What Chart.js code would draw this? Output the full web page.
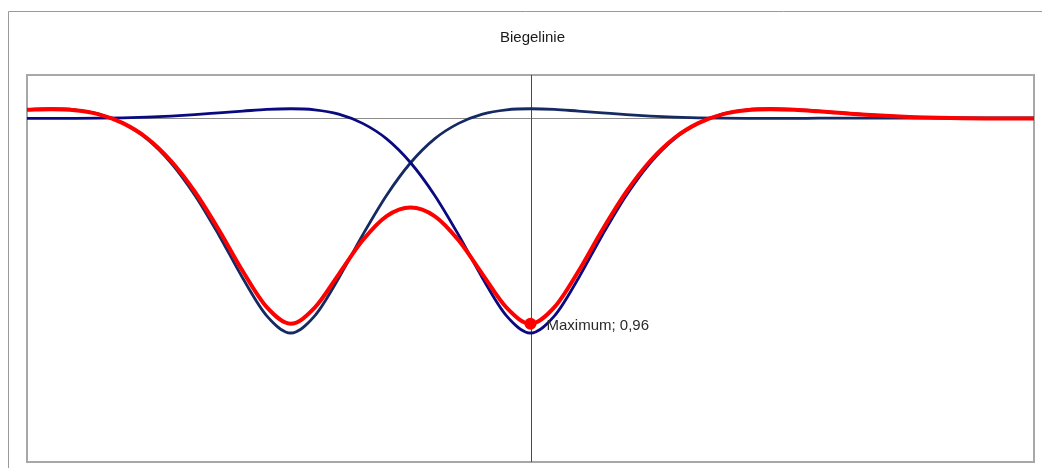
<!DOCTYPE html>
<html><head><meta charset="utf-8">
<script src="https://cdn.jsdelivr.net/npm/chart.js@4/dist/chart.umd.min.js"></script>
<style>html,body{margin:0;padding:0;background:#fff;}canvas{display:block;}</style>
</head><body>
<canvas id="c" width="1042" height="468"></canvas>
<script>
const chartTitle = 'Biegelinie';
const xValues = [-21,-20,-19,-18,-17,-16,-15,-14,-13,-12,-11,-10,-9,-8,-7,-6,-5,-4,-3,-2,-1,0,1,2,3,4,5,6,7,8,9,10,11,12,13,14,15,16,17,18,19,20,21];
const load1Deflection = [-0.040,-0.043,-0.038,-0.018,0.025,0.097,0.208,0.359,0.544,0.745,0.920,1.000,0.920,0.745,0.544,0.359,0.208,0.097,0.025,-0.018,-0.038,-0.043,-0.040,-0.032,-0.024,-0.016,-0.009,-0.004,-0.001,0.001,0.002,0.002,0.002,0.001,0.001,0.001,0.000,0.000,0.000,0.000,0.000,0.000,0.000];
const load2Deflection = [0.002,0.002,0.002,0.001,-0.001,-0.004,-0.009,-0.016,-0.024,-0.032,-0.040,-0.043,-0.038,-0.018,0.025,0.097,0.208,0.359,0.544,0.745,0.920,1.000,0.920,0.745,0.544,0.359,0.208,0.097,0.025,-0.018,-0.038,-0.043,-0.040,-0.032,-0.024,-0.016,-0.009,-0.004,-0.001,0.001,0.002,0.002,0.002];
const totalDeflection = [-0.038,-0.041,-0.036,-0.017,0.024,0.093,0.199,0.343,0.520,0.713,0.880,0.957,0.882,0.727,0.569,0.456,0.416,0.456,0.569,0.727,0.882,0.957,0.880,0.713,0.520,0.343,0.199,0.093,0.024,-0.017,-0.036,-0.041,-0.038,-0.031,-0.023,-0.015,-0.009,-0.004,-0.001,0.001,0.002,0.002,0.002];
const maxPointX = [0];
const maxPointY = [0.957];
const maxLabelText = 'Maximum';
const maxLabelValue = [0.96];

const toPts = (ys) => xValues.map((x, i) => ({x, y: ys[i]}));
const FONT = '"Liberation Sans", Arial, sans-serif';

const decor = {
  id: 'decor',
  beforeDraw(chart) {
    const {ctx, chartArea: a, scales: {x, y}} = chart;
    ctx.save();
    ctx.strokeStyle = '#9a9a9a'; ctx.lineWidth = 1;
    ctx.beginPath(); ctx.moveTo(8.5, 468); ctx.lineTo(8.5, 11.5); ctx.lineTo(1042, 11.5); ctx.stroke();
    ctx.fillStyle = '#1a1a1a'; ctx.font = '15px ' + FONT; ctx.textAlign = 'center'; ctx.textBaseline = 'middle';
    ctx.fillText(chartTitle, (a.left + a.right) / 2 + 2, 38);
    ctx.strokeStyle = '#a8a8a8'; ctx.lineWidth = 2;
    ctx.strokeRect(a.left, a.top, a.right - a.left, a.bottom - a.top);
    const y0 = Math.round(y.getPixelForValue(0)) + 0.5;
    ctx.strokeStyle = '#8a8a8a'; ctx.lineWidth = 1;
    ctx.beginPath(); ctx.moveTo(a.left, y0); ctx.lineTo(a.right, y0); ctx.stroke();
    const x0 = Math.round(x.getPixelForValue(0)) + 0.5;
    ctx.strokeStyle = '#4a4a4a';
    ctx.beginPath(); ctx.moveTo(x0, a.top); ctx.lineTo(x0, a.bottom); ctx.stroke();
    ctx.restore();
  },
  afterDatasetsDraw(chart) {
    const {ctx, scales: {x, y}} = chart;
    ctx.save();
    ctx.fillStyle = '#2a2a2a'; ctx.font = '15px ' + FONT; ctx.textAlign = 'left'; ctx.textBaseline = 'middle';
    const px = x.getPixelForValue(maxPointX[0]), py = y.getPixelForValue(maxPointY[0]);
    ctx.fillText(maxLabelText + '; ' + maxLabelValue[0].toFixed(2).replace('.', ','), px + 16, py + 2);
    ctx.restore();
  }
};

new Chart(document.getElementById('c'), {
  type: 'line',
  data: {
    datasets: [
      {data: maxPointX.map((x, i) => ({x, y: maxPointY[i]})), showLine: false, pointRadius: 6, pointBackgroundColor: '#ff0000', pointBorderWidth: 0, order: 0},
      {data: toPts(totalDeflection), borderColor: '#ff0000', borderWidth: 4, pointRadius: 0, cubicInterpolationMode: 'monotone', order: 1},
      {data: toPts(load2Deflection), borderColor: '#0a0a80', borderWidth: 2.8, pointRadius: 0, cubicInterpolationMode: 'monotone', order: 2},
      {data: toPts(load1Deflection), borderColor: '#152a62', borderWidth: 2.8, pointRadius: 0, cubicInterpolationMode: 'monotone', order: 3}
    ]
  },
  options: {
    responsive: false, animation: false, devicePixelRatio: 1,
    layout: {padding: {left: 27, top: 75, right: 8, bottom: 6}},
    plugins: {legend: {display: false}, title: {display: false}, tooltip: {enabled: false}},
    scales: {
      x: {type: 'linear', min: -21, max: 21, display: false},
      y: {type: 'linear', min: -0.2, max: 1.6, reverse: true, display: false}
    }
  },
  plugins: [decor]
});
</script>
</body></html>
